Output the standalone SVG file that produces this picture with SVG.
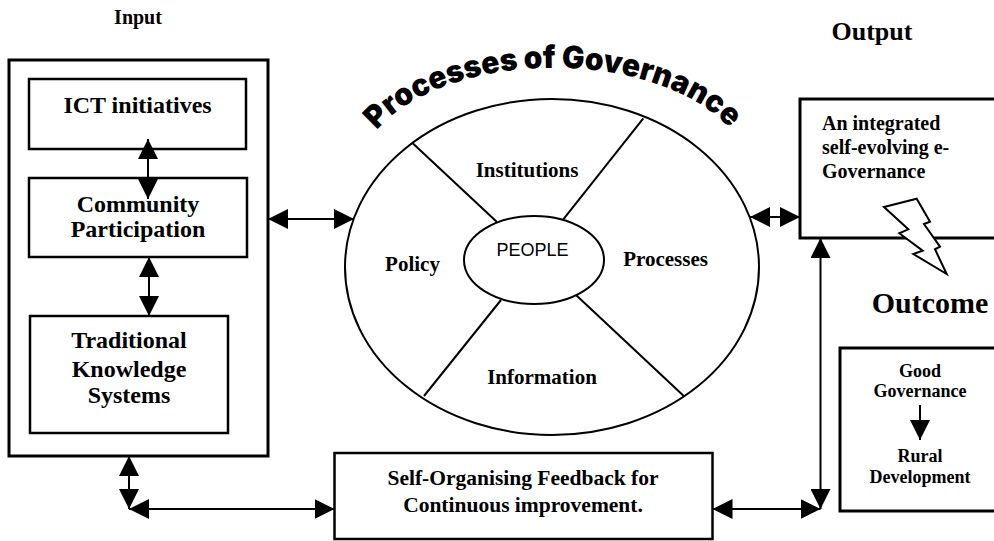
<svg xmlns="http://www.w3.org/2000/svg" width="994" height="541" viewBox="0 0 994 541">
<style>
.t{font-family:"Liberation Serif","Times New Roman",serif;font-weight:bold;fill:#000;text-anchor:middle}
.s{text-anchor:start}
.box{fill:#fff;stroke:#000;stroke-width:2.5}
.ln{fill:none;stroke:#000;stroke-width:2}
.c{fill:none;stroke:#000;stroke-width:2}
</style>
<defs>
<marker id="ah" markerUnits="userSpaceOnUse" markerWidth="20" markerHeight="20" refX="20" refY="10" orient="auto-start-reverse" viewBox="0 0 20 20">
<path d="M0,0 L20,10 L0,20 z" fill="#000"/>
</marker>
<path id="arc" d="M 377,130 A 195 107 0 0 1 731,130"/>
</defs>
<rect width="994" height="541" fill="#fff"/>

<g id="labels">
<text class="t" x="138" y="24" font-size="20">Input</text>
<text class="t" x="872" y="40" font-size="26">Output</text>
<text class="t" x="930" y="313" font-size="30">Outcome</text>
<text font-family="Inter,'DejaVu Sans',sans-serif" font-weight="900" font-size="31" fill="#000"><textPath href="#arc" textLength="383" lengthAdjust="spacingAndGlyphs">Processes of Governance</textPath></text>
</g>

<g id="input-group">
<rect x="9" y="60" width="259" height="396" fill="#fff" stroke="#000" stroke-width="3"/>
</g>
<g id="ict">
<rect class="box" x="29" y="79" width="217" height="70"/>
<text class="t" x="137.5" y="113" font-size="24">ICT initiatives</text>
</g>
<g id="community">
<rect class="box" x="29" y="178" width="218" height="79"/>
<text class="t" x="138" y="212" font-size="24">Community</text>
<text class="t" x="138" y="237" font-size="24">Participation</text>
</g>
<g id="traditional">
<rect class="box" x="30" y="316" width="198" height="117"/>
<text class="t" x="129" y="348" font-size="24">Traditional</text>
<text class="t" x="129" y="377" font-size="24">Knowledge</text>
<text class="t" x="129" y="403" font-size="24">Systems</text>
</g>

<g id="governance">
<ellipse cx="552" cy="267" rx="207" ry="168" fill="#fff" stroke="#000" stroke-width="2"/>
<line class="ln" x1="412.7" y1="143.3" x2="496.7" y2="221.7"/>
<line class="ln" x1="643.3" y1="118.3" x2="563.3" y2="219.3"/>
<line class="ln" x1="501" y1="300" x2="424" y2="396"/>
<line class="ln" x1="576" y1="295" x2="683.8" y2="396"/>
<text class="t" x="527" y="177" font-size="21">Institutions</text>
<text class="t" x="412.5" y="271" font-size="21">Policy</text>
<text class="t" x="665.5" y="266" font-size="21">Processes</text>
<text class="t" x="542" y="384" font-size="21">Information</text>
</g>
<g id="people">
<ellipse cx="534" cy="260" rx="70" ry="44" fill="#fff" stroke="#000" stroke-width="2"/>
<text x="532.5" y="256" font-family="'Liberation Sans',Arial,sans-serif" font-size="18" text-anchor="middle">PEOPLE</text>
</g>

<g id="output">
<rect x="800" y="99" width="200" height="139" fill="#fff" stroke="#000" stroke-width="3"/>
<text class="t s" x="822" y="130" font-size="20">An integrated</text>
<text class="t s" x="822" y="154" font-size="20">self-evolving e-</text>
<text class="t s" x="822" y="178" font-size="20">Governance</text>
<path d="M884,207 L916.7,198.7 L930,221.7 L924,224 L940,246.7 L935,249.3 L946.7,274 L913.3,254 L922.7,250.7 L899.3,233.3 L908.3,229.3 Z" fill="#fff" stroke="#000" stroke-width="2"/>
</g>

<g id="outcome">
<rect x="840" y="348" width="160" height="163" fill="#fff" stroke="#000" stroke-width="3"/>
<text class="t" x="920" y="377" font-size="18">Good</text>
<text class="t" x="920" y="397" font-size="18">Governance</text>
<text class="t" x="920" y="462" font-size="18">Rural</text>
<text class="t" x="920" y="483" font-size="18">Development</text>
</g>

<g id="feedback">
<rect class="box" x="334.5" y="453" width="378" height="86"/>
<text class="t" x="523" y="485" font-size="21.5">Self-Organising Feedback for</text>
<text class="t" x="523" y="512" font-size="21.5">Continuous improvement.</text>
</g>

<g id="connectors">
<line class="c" x1="148" y1="139" x2="148" y2="199" marker-start="url(#ah)" marker-end="url(#ah)"/>
<line class="c" x1="149" y1="257" x2="149" y2="316" marker-start="url(#ah)" marker-end="url(#ah)"/>
<line class="c" x1="268" y1="219" x2="354" y2="219" marker-start="url(#ah)" marker-end="url(#ah)"/>
<line class="c" x1="750" y1="217" x2="800" y2="217" marker-start="url(#ah)" marker-end="url(#ah)"/>
<line class="c" x1="129" y1="456" x2="129" y2="509" marker-start="url(#ah)" marker-end="url(#ah)"/>
<line class="c" x1="129" y1="509" x2="334.5" y2="509" marker-start="url(#ah)" marker-end="url(#ah)"/>
<line class="c" x1="712.5" y1="509" x2="820.5" y2="509" marker-start="url(#ah)" marker-end="url(#ah)"/>
<line class="c" x1="820.5" y1="509" x2="820.5" y2="238" marker-start="url(#ah)" marker-end="url(#ah)"/>
<line class="c" x1="920" y1="405" x2="920" y2="440" marker-end="url(#ah)"/>
</g>
</svg>
